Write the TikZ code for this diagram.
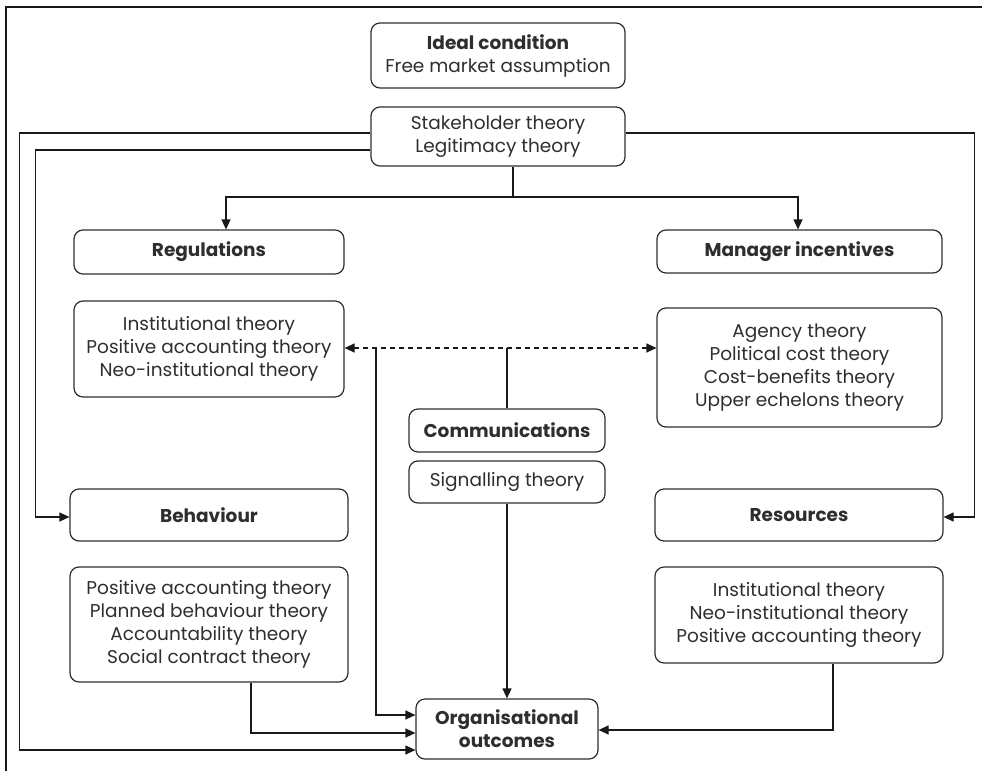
\documentclass[tikz,border=0pt]{standalone}
\usepackage{fontspec}
\setmainfont{Poppins}
\usetikzlibrary{arrows.meta}
\definecolor{ink}{HTML}{2E2E2E}
\tikzset{
  tbox/.style={draw=ink, rounded corners=9pt, line width=1.2pt, align=center,
    text=ink, inner sep=0pt, font=\fontsize{18.5}{23}\selectfont},
  conn/.style={draw=black!90, line width=1.2pt},
  arr/.style={conn, -{Triangle[length=10pt,width=9pt]}},
  darr/.style={conn, {Triangle[length=10pt,width=9pt]}-{Triangle[length=10pt,width=9pt]},
    dash pattern=on 5pt off 4pt},
}
\begin{document}
\begin{tikzpicture}[x=1pt,y=-1pt]
\useasboundingbox (0,0) rectangle (982,771);
% page frame: top and left rules
\draw[conn] (982,7) -- (6,7) -- (6,771);

% boxes
\node[tbox, minimum width=254pt, minimum height=65pt] (ideal) at (498,55.5)
  {\textbf{Ideal condition}\\Free market assumption};
\node[tbox, minimum width=254pt, minimum height=59pt] (stake) at (498,136.5)
  {Stakeholder theory\\Legitimacy theory};
\node[tbox, minimum width=270pt, minimum height=44pt] (reg) at (209,252)
  {\textbf{Regulations}};
\node[tbox, minimum width=285pt, minimum height=43pt] (mgr) at (799.5,251.5)
  {\textbf{Manager incentives}};
\node[tbox, minimum width=270pt, minimum height=96pt] (inst) at (209,349)
  {Institutional theory\\Positive accounting theory\\Neo-institutional theory};
\node[tbox, minimum width=285pt, minimum height=119pt] (agency) at (799.5,367.5)
  {Agency theory\\Political cost theory\\Cost-benefits theory\\Upper echelons theory};
\node[tbox, minimum width=196pt, minimum height=43pt] (comm) at (507,430.5)
  {\textbf{Communications}};
\node[tbox, minimum width=196pt, minimum height=42pt] (sig) at (507,482)
  {Signalling theory};
\node[tbox, minimum width=278pt, minimum height=52pt] (beh) at (209,515)
  {\textbf{Behaviour}};
\node[tbox, minimum width=288pt, minimum height=52pt] (res) at (799,515)
  {\textbf{Resources}};
\node[tbox, minimum width=278pt, minimum height=115pt] (behth) at (209,624.5)
  {Positive accounting theory\\Planned behaviour theory\\Accountability theory\\Social contract theory};
\node[tbox, minimum width=288pt, minimum height=96pt] (resth) at (799,615)
  {Institutional theory\\Neo-institutional theory\\Positive accounting theory};
\node[tbox, minimum width=182pt, minimum height=60pt] (org) at (507,729)
  {\textbf{Organisational}\\\textbf{outcomes}};

% split below the stakeholder box
\coordinate (fork) at (513,197);
\draw[conn] (stake.south -| fork) -- (fork);
\draw[arr] (fork) -| ([xshift=17pt]reg.north);
\draw[arr] (fork) -| ([xshift=-1.5pt]mgr.north);

% long side routes from the stakeholder box
\draw[arr] ([yshift=3.5pt]stake.west) -- ++(-351,0) |- ([yshift=-21pt]org.west);
\draw[arr] ([yshift=-13.5pt]stake.west) -- ++(-335,0) |- ([yshift=-2pt]beh.west);
\draw[arr] ([yshift=3.5pt]stake.east) -- ++(349,0) |- ([yshift=-2pt]res.east);

% communications links
\coordinate (dl) at (376,348);
\draw[darr] ([yshift=1pt]inst.east) -- (dl -| agency.west);
\draw[conn] (comm.north) -- (comm.north |- dl);
\draw[arr] (dl) |- ([yshift=14pt]org.west);
\draw[arr] (sig.south) -- (org.north);

% theory boxes into outcomes
\draw[arr] ([xshift=42pt]behth.south) |- ([yshift=-4pt]org.west);
\draw[arr] ([xshift=34pt]resth.south) |- ([yshift=-1pt]org.east);
\end{tikzpicture}
\end{document}
